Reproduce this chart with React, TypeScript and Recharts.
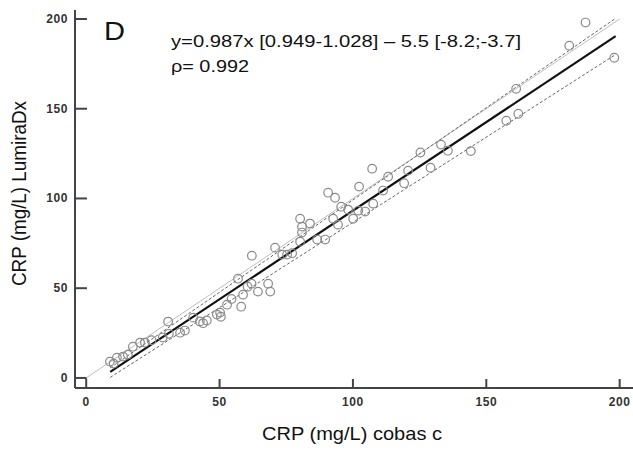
import React from 'react';
import { ScatterChart, Scatter, XAxis, YAxis } from 'recharts';

// CRP pairs: cobas c (x) vs LumiraDx (y), mg/L
const cobas = [
  8.9, 10.3, 11.5, 13.8, 15.6, 17.5, 20.2, 22.0, 24.5, 28.7,
  30.7, 31.0, 35.2, 37.0, 40.1, 42.6, 43.8, 45.2, 49.0, 50.2,
  50.5, 52.8, 54.5, 58.1, 58.8, 56.9, 60.5, 62.0, 64.4, 68.2,
  69.0, 62.1, 70.8, 73.5, 75.3, 77.2, 80.2, 80.9, 80.9, 80.2,
  83.9, 86.6, 89.6, 90.7, 93.3, 92.6, 94.4, 95.6, 98.2, 100.1,
  102.0, 104.6, 107.6, 102.3, 107.2, 111.3, 113.2, 119.2, 120.7, 125.3,
  129.1, 133.0, 135.6, 144.2, 157.5, 162.0, 161.2, 181.1, 187.2, 198.0,
];
const lumira = [
  9.1, 8.0, 11.3, 11.9, 13.0, 17.4, 19.7, 19.7, 21.0, 22.5,
  31.4, 24.6, 25.2, 26.4, 33.6, 31.5, 30.5, 32.0, 35.3, 36.4,
  34.1, 40.8, 44.0, 39.7, 46.4, 55.3, 50.8, 52.5, 48.1, 52.5,
  48.1, 68.1, 72.6, 68.7, 68.7, 69.5, 75.9, 81.0, 84.3, 88.7,
  86.0, 77.1, 77.1, 103.2, 100.4, 88.7, 85.4, 95.4, 93.8, 88.7,
  93.2, 92.7, 97.1, 106.6, 116.6, 104.4, 112.1, 108.5, 115.5, 125.6,
  117.1, 130.0, 126.6, 126.4, 143.3, 147.2, 161.1, 185.1, 198.0, 178.4,
];
const points = cobas.map((x, i) => ({ x, y: lumira[i] }));

// line end points
const fitLine = [{ x: 9, y: 3.4 }, { x: 198.5, y: 190.4 }];
const upperBand = [{ x: 9, y: 5.6 }, { x: 198.5, y: 200.4 }];
const lowerBand = [{ x: 9, y: 0.3 }, { x: 198.5, y: 180.2 }];
const identity = [{ x: 0, y: 0 }, { x: 200, y: 200 }];

const xTicks = [0, 50, 100, 150, 200];
const yTicks = [0, 50, 100, 150, 200];

const FONT = '"Liberation Sans", Arial, sans-serif';

const noDot = () => <g />;

const Ring = (props: any) => (
  <circle cx={props.cx} cy={props.cy} r={4.3} fill="none" stroke="#8a8a8a" strokeWidth={1.2} />
);

const YTick = ({ x, y, payload }: any) => (
  <text x={x} y={y} textAnchor="end" dominantBaseline="central" fontFamily={FONT}
    fontWeight="bold" fontSize={12} fill="#333" letterSpacing={0.6}>
    {payload.value}
  </text>
);

const XTick = ({ x, y, payload }: any) => (
  <text x={x} y={y} dy="0.71em" textAnchor="middle" fontFamily={FONT}
    fontWeight="bold" fontSize={12} fill="#333" letterSpacing={0.6}>
    {payload.value}
  </text>
);

export default function App() {
  const axisStroke = { stroke: '#444', strokeWidth: 2 };
  return (
    <div style={{ position: 'absolute', left: 0, top: 0, width: 633, height: 450, background: '#fff' }}>
      <ScatterChart width={633} height={450} margin={{ top: 10, right: 0, bottom: 12, left: 15 }}>
        <XAxis
          type="number"
          dataKey="x"
          domain={[-4.2, 205]}
          ticks={xTicks}
          allowDataOverflow
          height={50}
          axisLine={axisStroke}
          tickLine={axisStroke}
          tickSize={-9}
          tickMargin={18}
          tick={<XTick />}
        />
        <YAxis
          type="number"
          dataKey="y"
          domain={[-5.6, 205]}
          ticks={yTicks}
          allowDataOverflow
          width={60}
          axisLine={axisStroke}
          tickLine={axisStroke}
          tickSize={-12}
          tickMargin={19}
          tick={<YTick />}
        />
        <Scatter data={identity} line={{ stroke: '#bdbdbd', strokeWidth: 1 }} shape={noDot} isAnimationActive={false} />
        <Scatter data={upperBand} line={{ stroke: '#666', strokeWidth: 1, strokeDasharray: '3 2' }} shape={noDot} isAnimationActive={false} />
        <Scatter data={lowerBand} line={{ stroke: '#666', strokeWidth: 1, strokeDasharray: '3 2' }} shape={noDot} isAnimationActive={false} />
        <Scatter data={fitLine} line={{ stroke: '#111', strokeWidth: 2.2 }} shape={noDot} isAnimationActive={false} />
        <Scatter data={points} shape={<Ring />} isAnimationActive={false} />
      </ScatterChart>
      <svg width={633} height={450} style={{ position: 'absolute', left: 0, top: 0, pointerEvents: 'none' }}>
        <text x={104} y={39.5} fontFamily={FONT} fontSize={26.5} fill="#111" textLength={21} lengthAdjust="spacingAndGlyphs">D</text>
        <text x={171} y={46.5} fontFamily={FONT} fontSize={16} fill="#111" textLength={350} lengthAdjust="spacingAndGlyphs">
          y=0.987x [0.949-1.028] – 5.5 [-8.2;-3.7]
        </text>
        <text x={171} y={71.7} fontFamily={FONT} fontSize={16} fill="#111" textLength={78} lengthAdjust="spacingAndGlyphs">
          ρ= 0.992
        </text>
        <text transform="translate(25.7 193.5) rotate(-90)" x={0} y={0} textAnchor="middle" fontFamily={FONT}
          fontSize={19.5} fill="#111" textLength={185} lengthAdjust="spacingAndGlyphs">
          CRP (mg/L) LumiraDx
        </text>
        <text x={352} y={440} textAnchor="middle" fontFamily={FONT} fontSize={19} fill="#111"
          textLength={180} lengthAdjust="spacingAndGlyphs">
          CRP (mg/L) cobas c
        </text>
      </svg>
    </div>
  );
}
